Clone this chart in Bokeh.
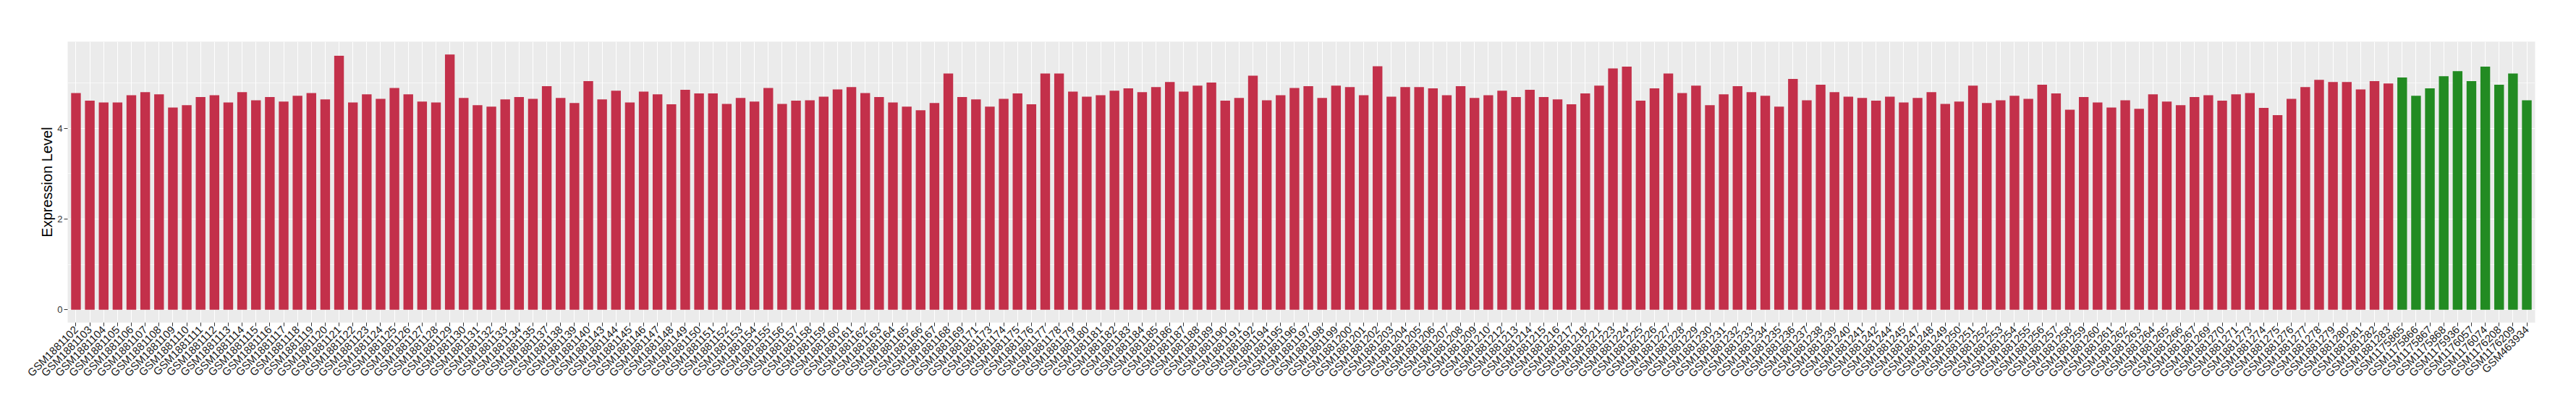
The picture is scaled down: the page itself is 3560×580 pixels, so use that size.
import math
from bokeh.plotting import figure
from bokeh.models import FactorRange, Range1d, SingleIntervalTicker, ColumnDataSource
from bokeh.embed import file_html
from bokeh.resources import INLINE

# sample id suffixes of the tumour group (GSM1881xxx)
tumor_ids = [
    102, 103, 104, 105, 106, 107, 108, 109, 110, 111, 112, 113, 114, 115, 116, 117,
    118, 119, 120, 121, 122, 123, 124, 125, 126, 127, 128, 129, 130, 131, 132, 133,
    134, 135, 137, 138, 139, 140, 143, 144, 145, 146, 147, 148, 149, 150, 151, 152,
    153, 154, 155, 156, 157, 158, 159, 160, 161, 162, 163, 164, 165, 166, 167, 168,
    169, 171, 173, 174, 175, 176, 177, 178, 179, 180, 181, 182, 183, 184, 185, 186,
    187, 188, 189, 190, 191, 192, 194, 195, 196, 197, 198, 199, 200, 201, 202, 203,
    204, 205, 206, 207, 208, 209, 210, 212, 213, 214, 215, 216, 217, 218, 221, 223,
    224, 225, 226, 227, 228, 229, 230, 231, 232, 233, 234, 235, 236, 237, 238, 239,
    240, 241, 242, 244, 245, 247, 248, 249, 250, 251, 252, 253, 254, 255, 256, 257,
    258, 259, 260, 261, 262, 263, 264, 265, 266, 267, 269, 270, 271, 273, 274, 275,
    276, 277, 278, 279, 280, 281, 282, 283,
]
tumor_samples = ["GSM1881%d" % n for n in tumor_ids]

tumor_values = [
    4.78, 4.61, 4.57, 4.57, 4.73, 4.80, 4.75, 4.46, 4.51, 4.69,
    4.73, 4.57, 4.80, 4.62, 4.69, 4.59, 4.72, 4.78, 4.64, 5.60,
    4.57, 4.75, 4.65, 4.89, 4.75, 4.59, 4.57, 5.63, 4.67, 4.51,
    4.48, 4.64, 4.69, 4.65, 4.93, 4.67, 4.56, 5.04, 4.64, 4.83,
    4.57, 4.81, 4.75, 4.53, 4.85, 4.77, 4.77, 4.54, 4.67, 4.59,
    4.89, 4.54, 4.61, 4.62, 4.70, 4.86, 4.91, 4.78, 4.69, 4.57,
    4.48, 4.40, 4.56, 5.21, 4.69, 4.64, 4.48, 4.65, 4.77, 4.53,
    5.21, 5.21, 4.81, 4.70, 4.73, 4.83, 4.88, 4.80, 4.91, 5.02,
    4.81, 4.94, 5.01, 4.61, 4.67, 5.16, 4.62, 4.73, 4.89, 4.93,
    4.67, 4.94, 4.91, 4.73, 5.37, 4.70, 4.91, 4.91, 4.88, 4.73,
    4.93, 4.67, 4.73, 4.83, 4.69, 4.85, 4.69, 4.64, 4.53, 4.77,
    4.94, 5.32, 5.36, 4.61, 4.88, 5.21, 4.78, 4.94, 4.51, 4.75,
    4.93, 4.80, 4.72, 4.48, 5.09, 4.62, 4.96, 4.80, 4.70, 4.67,
    4.61, 4.70, 4.57, 4.67, 4.80, 4.54, 4.59, 4.94, 4.56, 4.62,
    4.72, 4.65, 4.96, 4.77, 4.41, 4.69, 4.57, 4.46, 4.62, 4.43,
    4.75, 4.59, 4.51, 4.69, 4.73, 4.61, 4.75, 4.78, 4.45, 4.29,
    4.65, 4.91, 5.07, 5.02, 5.02, 4.86, 5.04, 4.99,
]

normal_samples = [
    "GSM1175865", "GSM1175866", "GSM1175867", "GSM1175868", "GSM1175936",
    "GSM1176057", "GSM1176074", "GSM1176208", "GSM1176209", "GSM463934",
]
normal_values = [5.12, 4.72, 4.88, 5.15, 5.26, 5.04, 5.36, 4.96, 5.21, 4.62]

tumor_color = "#C3304A"
normal_color = "#228B22"

samples = tumor_samples + normal_samples
values = tumor_values + normal_values
colors = [tumor_color] * len(tumor_samples) + [normal_color] * len(normal_samples)

src = ColumnDataSource(dict(sample=samples, value=values, color=colors))

ymax = max(values)
p = figure(
    x_range=FactorRange(factors=samples, range_padding=0.1, range_padding_units="absolute"),
    y_range=Range1d(-0.05 * ymax, 1.05 * ymax),
    frame_width=3410, frame_height=388,
    min_border_left=93, min_border_top=57, min_border_right=57, min_border_bottom=10,
    output_backend="svg", toolbar_location=None,
    background_fill_color="#EBEBEB", border_fill_color="white",
    outline_line_color=None,
)

p.vbar(x="sample", top="value", bottom=0, width=0.7, source=src,
       fill_color="color", line_color=None)

font = "Liberation Sans"

# x axis
p.xaxis.major_label_orientation = math.pi / 4
p.xaxis.major_label_text_font = font
p.xaxis.major_label_text_font_size = "15px"
p.xaxis.major_label_text_color = "#1A1A1A"
p.xaxis.major_label_standoff = 2
p.xaxis.major_tick_out = 5
p.xaxis.major_tick_in = 0
p.xaxis.major_tick_line_color = "#333333"
p.xaxis.axis_line_color = None
p.xgrid.grid_line_color = "white"
p.xgrid.grid_line_width = 1.1

# y axis
p.yaxis.ticker = SingleIntervalTicker(interval=2, num_minor_ticks=2)
p.yaxis.major_label_text_font = font
p.yaxis.major_label_text_font_size = "13px"
p.yaxis.major_label_text_color = "#333333"
p.yaxis.major_label_standoff = 2
p.yaxis.major_tick_out = 5
p.yaxis.major_tick_in = 0
p.yaxis.major_tick_line_color = "#333333"
p.yaxis.minor_tick_line_color = None
p.yaxis.axis_line_color = None
p.yaxis.axis_label = "Expression Level"
p.yaxis.axis_label_text_font = font
p.yaxis.axis_label_text_font_size = "20px"
p.yaxis.axis_label_text_font_style = "normal"
p.yaxis.axis_label_text_color = "black"
p.yaxis.axis_label_standoff = 0
p.ygrid.grid_line_color = "white"
p.ygrid.grid_line_width = 1.1
p.ygrid.minor_grid_line_color = "white"
p.ygrid.minor_grid_line_width = 0.6

open("out.html", "w").write(file_html(p, INLINE))
